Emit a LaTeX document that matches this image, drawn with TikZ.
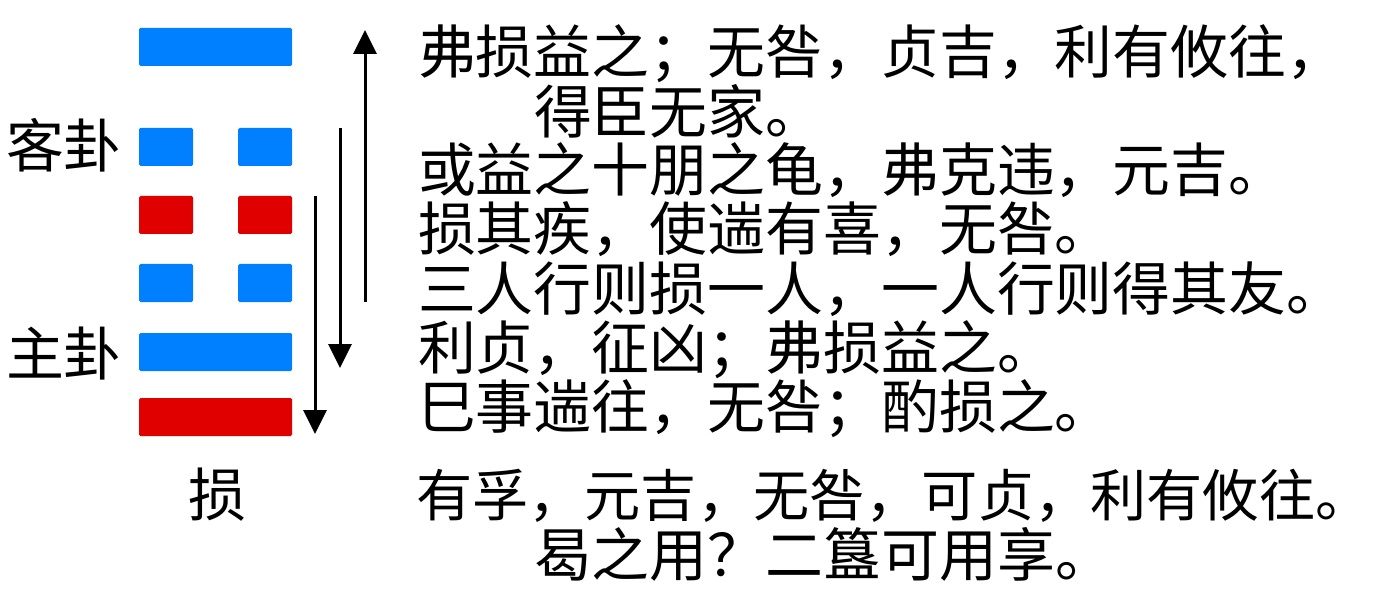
\documentclass[tikz,border=0pt]{standalone}
\usepackage{fontspec}
\newfontfamily\cjk{Noto Sans CJK SC}
\usetikzlibrary{arrows.meta}
\definecolor{yaoblue}{RGB}{0,128,255}
\definecolor{yaored}{RGB}{224,0,0}
\tikzset{
  yao/.style={inner sep=0pt, outer sep=0pt, rounded corners=1.5pt, minimum height=38pt},
  fullyao/.style={yao, minimum width=153pt},
  halfyao/.style={yao, minimum width=54pt},
  txt/.style={inner sep=0pt, outer sep=0pt, anchor=base west, font=\cjk\fontsize{57.9pt}{60pt}\selectfont},
  flow/.style={line width=3pt, -{Triangle[width=23pt,length=24pt]}}
}
\begin{document}
\begin{tikzpicture}[x=1pt,y=-1pt]
\useasboundingbox (0,0) rectangle (1374,604);
% hexagram lines (top to bottom)
\node[fullyao, fill=yaoblue] (y6) at (215.5,47) {};
\node[halfyao, fill=yaoblue] (y5l) at (166,147) {};
\node[halfyao, fill=yaoblue] (y5r) at (265,147) {};
\node[halfyao, fill=yaored] (y4l) at (166,215) {};
\node[halfyao, fill=yaored] (y4r) at (265,215) {};
\node[halfyao, fill=yaoblue] (y3l) at (166,283) {};
\node[halfyao, fill=yaoblue] (y3r) at (265,283) {};
\node[fullyao, fill=yaoblue] (y2) at (215.5,352) {};
\node[fullyao, fill=yaored] (y1) at (215.5,417) {};
% labels
\node[txt] (ke) at (6,168) {客卦};
\node[txt] (zhu) at (6,375) {主卦};
\node[txt] (sun) at (188,516) {损};
% arrows
\coordinate (a1s) at (365,302);
\coordinate (a1e) at (365,30);
\coordinate (a2s) at (340,128);
\coordinate (a2e) at (340,368);
\coordinate (a3s) at (315,196);
\coordinate (a3e) at (315,434);
\draw[flow] (a1s) -- (a1e);
\draw[flow] (a2s) -- (a2e);
\draw[flow] (a3s) -- (a3e);
% texts
\node[txt] (t1) at (418,74) {弗损益之；无咎，贞吉，利有攸往，};
\node[txt] (t2) at (534,134) {得臣无家。};
\node[txt] (t3) at (418,192) {或益之十朋之龟，弗克违，元吉。};
\node[txt] (t4) at (418,251) {损其疾，使遄有喜，无咎。};
\node[txt] (t5) at (418,310) {三人行则损一人，一人行则得其友。};
\node[txt] (t6) at (418,369) {利贞，征凶；弗损益之。};
\node[txt] (t7) at (418,428) {巳事遄往，无咎；酌损之。};
\node[txt, font=\cjk\fontsize{56.2pt}{60pt}\selectfont] (t8) at (416,516) {有孚，元吉，无咎，可贞，利有攸往。};
\node[txt] (t9) at (534,576) {曷之用？二簋可用享。};
\end{tikzpicture}
\end{document}
